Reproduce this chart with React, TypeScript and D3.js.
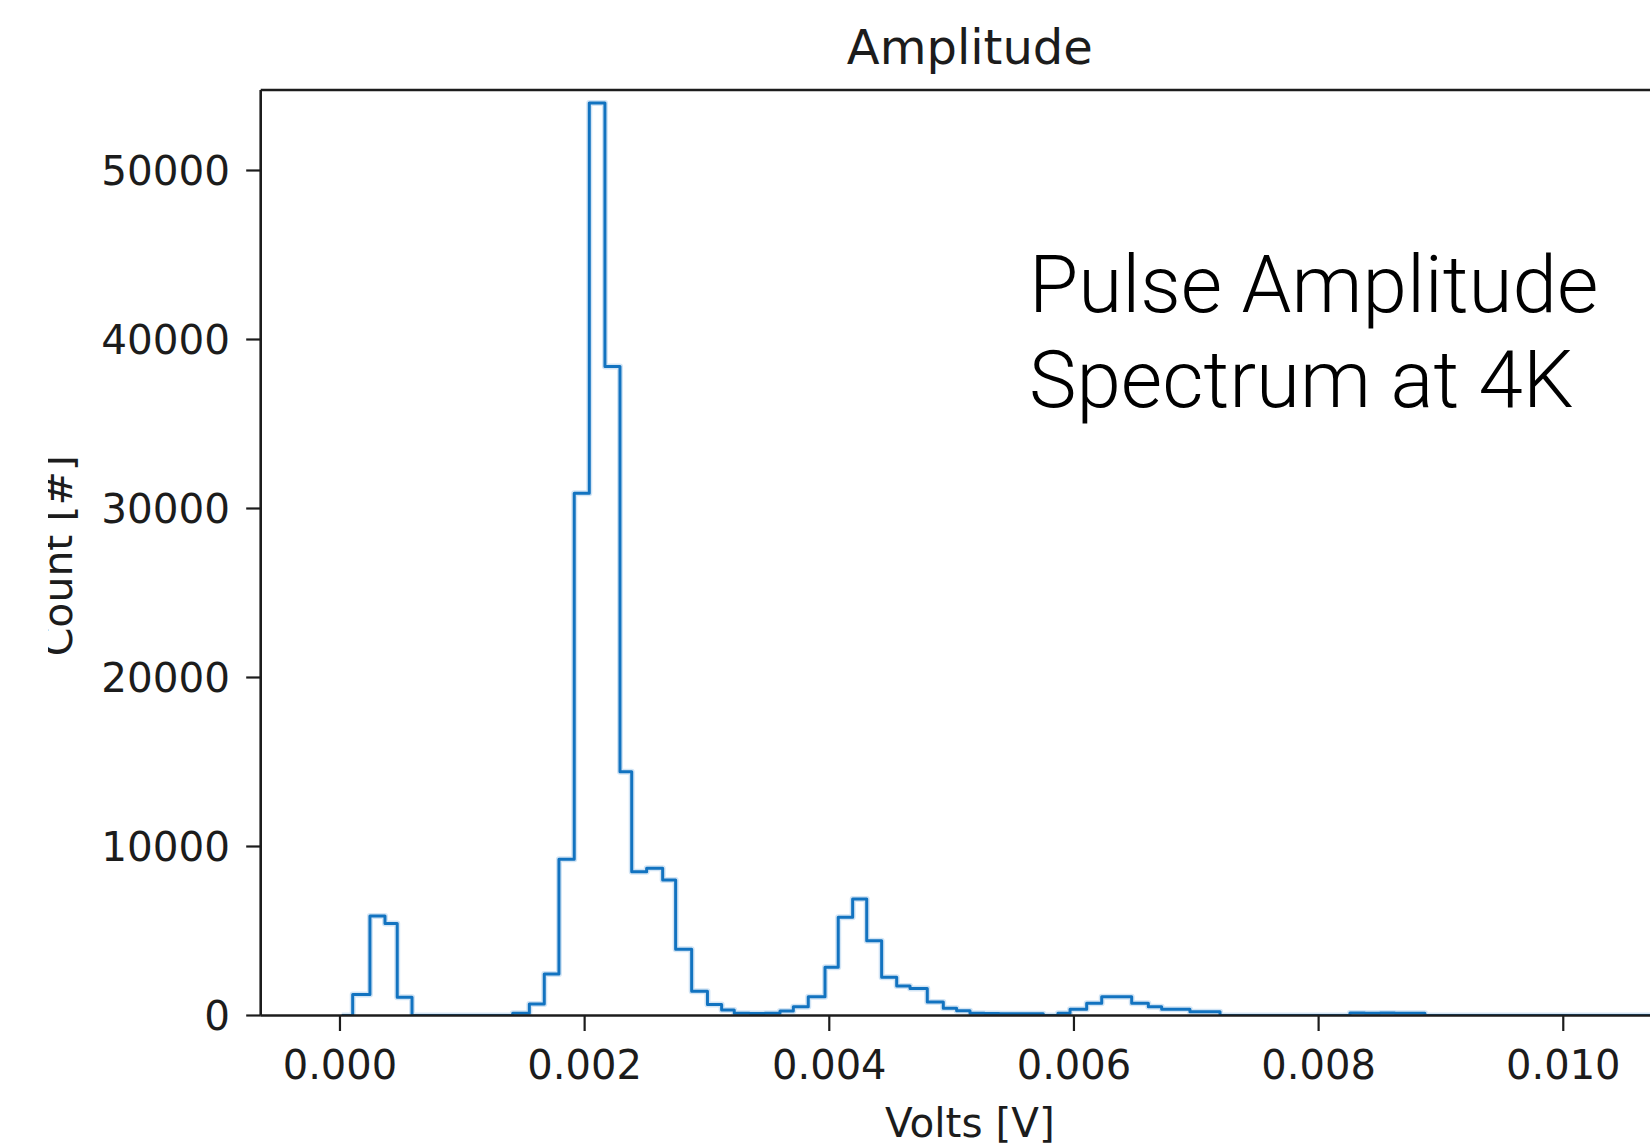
import React from "react";
import * as d3 from "d3";

const binEdgesMV = [
  0.014, 0.104, 0.245, 0.368, 0.468, 0.589, 1.412, 1.548, 1.670, 1.790,
  1.915, 2.038, 2.166, 2.289, 2.385, 2.507, 2.638, 2.744, 2.875, 3.004,
  3.120, 3.223, 3.348, 3.472, 3.597, 3.706, 3.828, 3.965, 4.073, 4.191,
  4.306, 4.428, 4.551, 4.660, 4.801, 4.932, 5.041, 5.150, 5.270, 5.390,
  5.510, 5.630, 5.749, 5.869, 5.968, 6.104, 6.227, 6.349, 6.472, 6.608,
  6.717, 6.834, 6.948, 7.071, 7.194, 8.256, 8.379, 8.502, 8.624, 8.747,
  8.869, 10.79,
];
const counts = [
  0, 1250, 5890, 5450, 1075, 0, 130, 680, 2455, 9240,
  30900, 54000, 38400, 14430, 8510, 8710, 8020, 3920, 1430, 650,
  325, 130, 120, 130, 266, 520, 1110, 2850, 5810, 6890,
  4430, 2260, 1745, 1600, 800, 425, 285, 140, 120, 110,
  110, 100, 0, 130, 365, 720, 1110, 1110, 720, 520,
  370, 370, 225, 225, 0, 150, 140, 150, 140, 130,
  0,
];
const xTicks = [0, 0.002, 0.004, 0.006, 0.008, 0.01];
const yTicks = [0, 10000, 20000, 30000, 40000, 50000];
const xDomain = [-0.000648, 0.010946];
const yDomain = [0, 54763];

const title = "Amplitude";
const xLabel = "Volts [V]";
const yLabel = "Count [#]";
const noteLines = ["Pulse Amplitude", "Spectrum at 4K"];

const W = 1650;
const H = 1148;
const M = { left: 260.7, right: 1679, top: 90, bottom: 1015.5 };
const AX = "#1c1c1c";
const LINE = "#1273c0";
const FONT = "'DejaVu Sans', sans-serif";

export default function App() {
  const x = d3.scaleLinear().domain(xDomain).range([M.left, M.right]);
  const y = d3.scaleLinear().domain(yDomain).range([M.bottom, M.top]);

  const edges = binEdgesMV.map((e) => e / 1000);
  const pts: [number, number][] = [[edges[0], 0]];
  counts.forEach((c, i) => pts.push([edges[i], c]));
  pts.push([edges[edges.length - 1], counts[counts.length - 1]]);
  pts.push([edges[edges.length - 1], 0]);
  const line = d3
    .line<[number, number]>()
    .x((d) => x(d[0]))
    .y((d) => y(d[1]))
    .curve(d3.curveStepAfter);
  const path = line(pts) || "";

  const fmt = d3.format(".3f");

  return (
    <svg
      width={W}
      height={H}
      style={{ position: "absolute", left: 0, top: 0, background: "#fff" }}
    >
      <defs>
        <clipPath id="plot">
          <rect x={M.left} y={M.top} width={M.right - M.left} height={M.bottom - M.top} />
        </clipPath>
        <clipPath id="ylab">
          <rect x={48} y={0} width={200} height={H} />
        </clipPath>
      </defs>
      <rect x={0} y={0} width={W} height={H} fill="#fff" />

      {/* histogram */}
      <g clipPath="url(#plot)">
        <path d={path} fill="none" stroke="#d3e5f5" strokeWidth={6} strokeLinejoin="round" />
        <path d={path} fill="none" stroke={LINE} strokeWidth={3} strokeLinejoin="round" />
      </g>

      {/* spines */}
      <g stroke={AX} strokeWidth={2.6} fill="none">
        <line x1={M.left} x2={M.left} y1={M.top} y2={M.bottom} />
        <line x1={M.left} x2={M.right} y1={M.top} y2={M.top} />
        <line x1={M.left} x2={M.right} y1={M.bottom} y2={M.bottom} />
        <line x1={M.right} x2={M.right} y1={M.top} y2={M.bottom} />
      </g>

      {/* y ticks */}
      {yTicks.map((t) => (
        <g key={"y" + t}>
          <line x1={M.left - 14.5} x2={M.left} y1={y(t)} y2={y(t)} stroke={AX} strokeWidth={2.2} />
          <text
            x={230}
            y={y(t) + 14.6}
            textAnchor="end"
            fontFamily={FONT}
            fontSize={40.5}
            fill={AX}
          >
            {t}
          </text>
        </g>
      ))}

      {/* x ticks */}
      {xTicks.map((t) => (
        <g key={"x" + t}>
          <line x1={x(t)} x2={x(t)} y1={M.bottom} y2={M.bottom + 15.5} stroke={AX} strokeWidth={2.2} />
          <text
            x={x(t)}
            y={1079}
            textAnchor="middle"
            fontFamily={FONT}
            fontSize={40}
            fill={AX}
          >
            {fmt(t)}
          </text>
        </g>
      ))}

      {/* labels */}
      <text x={(M.left + M.right) / 2} y={1137} textAnchor="middle" fontFamily={FONT} fontSize={40.5} fill={AX}>
        {xLabel}
      </text>
      <g clipPath="url(#ylab)">
        <text
          transform={`translate(71.5, ${(M.top + M.bottom) / 2 + 3}) rotate(-90)`}
          textAnchor="middle"
          fontFamily={FONT}
          fontSize={41}
          fill={AX}
        >
          {yLabel}
        </text>
      </g>
      <text x={(M.left + M.right) / 2} y={64} textAnchor="middle" fontFamily={FONT} fontSize={48} fill={AX}>
        {title}
      </text>

      {/* annotation */}
      {noteLines.map((s, i) => (
        <text
          key={s}
          x={1029}
          y={311.7 + i * 95}
          fontFamily="Roboto, 'Liberation Sans', sans-serif"
          fontWeight={300}
          fontSize={80}
          fill="#000"
        >
          {s}
        </text>
      ))}
    </svg>
  );
}
